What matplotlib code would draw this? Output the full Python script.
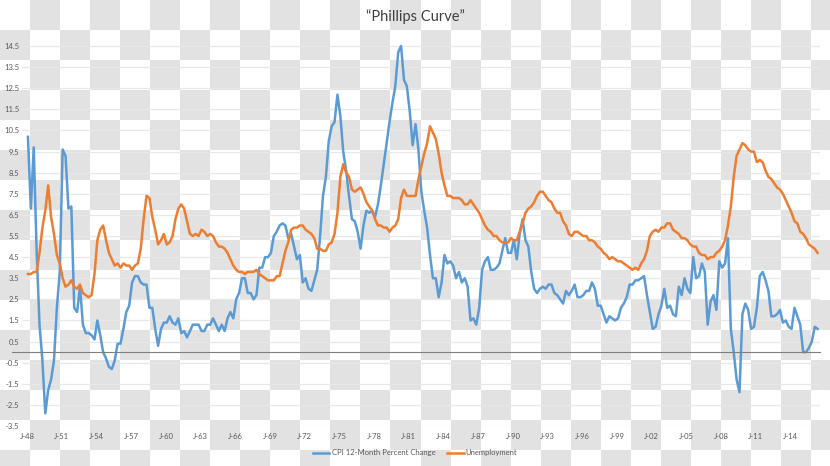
import numpy as np
import matplotlib
matplotlib.use('Agg')
import matplotlib.pyplot as plt
from matplotlib.colors import ListedColormap

plt.rcParams['font.family'] = ['Lato', 'DejaVu Sans']

# quarterly readings, starting Q1 1948
start_year = 1948
cpi_change = [
    10.2, 6.8, 9.7, 4.8,   1.3, -0.4, -2.9, -1.8,   -1.3, -0.4, 2.1, 3.8,   9.6, 9.3, 6.8, 6.9,
    2.1, 1.9, 3.1, 1.3,    0.9, 0.9, 0.8, 0.6,      1.5, 0.8, 0.0, -0.3,    -0.7, -0.8, -0.4, 0.4,
    0.4, 1.1, 1.9, 2.2,    3.3, 3.6, 3.6, 3.3,      3.2, 3.2, 2.1, 2.1,     1.1, 0.3, 1.1, 1.4,
    1.4, 1.7, 1.4, 1.3,    1.6, 0.9, 1.0, 0.7,      1.0, 1.3, 1.3, 1.3,     1.0, 1.0, 1.3, 1.3,
    1.6, 1.3, 1.0, 1.3,    1.0, 1.6, 1.9, 1.6,      2.5, 2.8, 3.5, 3.5,     2.8, 2.8, 2.5, 2.7,
    4.0, 4.0, 4.5, 4.5,    4.7, 5.5, 5.7, 6.0,      6.1, 6.0, 5.4, 5.6,     5.0, 4.4, 4.6, 3.3,
    3.5, 3.0, 2.9, 3.4,    3.9, 5.5, 7.4, 8.3,      10.0, 10.7, 10.9, 12.2, 11.2, 9.5, 8.6, 7.4,
    6.3, 6.2, 5.7, 4.9,    6.0, 6.7, 6.6, 6.7,      6.4, 7.0, 7.9, 8.9,     9.9, 10.9, 11.8, 12.6,
    14.2, 14.5, 12.9, 12.6, 11.4, 9.8, 10.8, 9.6,   7.6, 6.7, 5.9, 4.6,     3.5, 3.5, 2.6, 3.3,
    4.6, 4.2, 4.3, 4.1,    3.5, 3.8, 3.3, 3.5,      3.1, 1.5, 1.6, 1.3,     2.1, 3.9, 4.3, 4.5,
    3.9, 3.9, 4.0, 4.2,    4.8, 5.4, 4.7, 4.7,      5.3, 4.4, 5.6, 6.3,     5.3, 5.0, 3.8, 3.0,
    2.8, 3.0, 3.1, 3.0,    3.2, 3.2, 2.8, 2.7,      2.5, 2.3, 2.9, 2.7,     2.9, 3.2, 2.6, 2.6,
    2.7, 2.9, 2.9, 3.3,    3.0, 2.2, 2.2, 1.8,      1.4, 1.7, 1.6, 1.5,     1.6, 2.1, 2.3, 2.6,
    3.2, 3.2, 3.4, 3.4,    3.5, 3.6, 2.7, 1.9,      1.1, 1.2, 1.8, 2.2,     3.0, 2.1, 2.2, 1.8,
    1.7, 3.1, 2.7, 3.5,    3.0, 2.8, 4.5, 3.5,      3.6, 4.2, 3.8, 1.3,     2.4, 2.7, 2.0, 4.3,
    4.0, 4.2, 5.4, 1.1,    0.0, -1.3, -1.9, 1.8,    2.3, 2.0, 1.1, 1.2,     2.1, 3.6, 3.8, 3.4,
    2.9, 1.7, 1.7, 1.8,    2.0, 1.4, 1.5, 1.2,      1.1, 2.1, 1.7, 1.3,     0.0, 0.0, 0.2, 0.5,
    1.2, 1.1,
]
unemployment = [
    3.7, 3.7, 3.8, 3.8,    4.7, 5.9, 6.7, 7.9,      6.4, 5.6, 4.6, 4.2,     3.5, 3.1, 3.2, 3.4,
    3.1, 3.0, 3.2, 2.8,    2.7, 2.6, 2.7, 3.7,      5.3, 5.8, 6.0, 5.3,     4.7, 4.4, 4.1, 4.2,
    4.0, 4.2, 4.1, 4.1,    3.9, 4.1, 4.2, 4.9,      6.3, 7.4, 7.3, 6.4,     5.8, 5.1, 5.3, 5.6,
    5.1, 5.2, 5.5, 6.3,    6.8, 7.0, 6.8, 6.2,      5.6, 5.5, 5.6, 5.5,     5.8, 5.7, 5.5, 5.6,
    5.5, 5.2, 5.0, 5.0,    4.9, 4.7, 4.4, 4.1,      3.9, 3.8, 3.8, 3.7,     3.8, 3.8, 3.8, 3.9,
    3.7, 3.6, 3.5, 3.4,    3.4, 3.4, 3.6, 3.6,      4.2, 4.8, 5.2, 5.8,     5.9, 5.9, 6.0, 6.0,
    5.8, 5.7, 5.6, 5.4,    4.9, 4.9, 4.8, 4.8,      5.1, 5.2, 5.6, 6.6,     8.3, 8.9, 8.5, 8.3,
    7.7, 7.6, 7.7, 7.8,    7.5, 7.1, 6.9, 6.7,      6.3, 6.0, 6.0, 5.9,     5.9, 5.7, 5.9, 6.0,
    6.3, 7.3, 7.7, 7.4,    7.4, 7.4, 7.4, 8.2,      8.8, 9.4, 9.9, 10.7,    10.4, 10.1, 9.4, 8.5,
    7.9, 7.4, 7.4, 7.3,    7.3, 7.3, 7.2, 7.0,      7.0, 7.2, 7.0, 6.8,     6.6, 6.3, 6.0, 5.8,
    5.7, 5.5, 5.5, 5.3,    5.2, 5.2, 5.2, 5.4,      5.3, 5.3, 5.7, 6.1,     6.6, 6.8, 6.9, 7.1,
    7.4, 7.6, 7.6, 7.4,    7.2, 7.1, 6.8, 6.6,      6.6, 6.2, 6.0, 5.6,     5.5, 5.7, 5.7, 5.6,
    5.5, 5.5, 5.3, 5.3,    5.2, 5.0, 4.9, 4.7,      4.6, 4.4, 4.5, 4.4,     4.3, 4.3, 4.2, 4.1,
    4.0, 3.9, 4.0, 3.9,    4.2, 4.4, 4.8, 5.5,      5.7, 5.8, 5.7, 5.9,     5.9, 6.1, 6.1, 5.8,
    5.7, 5.6, 5.4, 5.4,    5.3, 5.1, 5.0, 5.0,      4.7, 4.6, 4.6, 4.4,     4.5, 4.5, 4.7, 4.8,
    5.0, 5.3, 6.0, 6.9,    8.3, 9.3, 9.6, 9.9,      9.8, 9.6, 9.5, 9.5,     9.0, 9.1, 9.0, 8.6,
    8.3, 8.2, 8.0, 7.8,    7.7, 7.5, 7.2, 6.9,      6.6, 6.2, 6.1, 5.7,     5.6, 5.4, 5.1, 5.0,
    4.9, 4.7,
]
tick_years = list(range(1948, 2015, 3))
tick_labels = ['J-%02d' % (y % 100) for y in tick_years]
y_ticks = np.arange(-3.5, 15, 1.0)

t = start_year + np.arange(len(cpi_change)) / 4 + 1 / 12

fig = plt.figure(figsize=(8.3, 4.66), dpi=100)

# checkered backdrop
bg = fig.add_axes([0, 0, 1, 1], zorder=0)
yy, xx = np.mgrid[0:466, 0:830]
checker = (yy // 30 + xx // 30) % 2
bg.imshow(checker, cmap=ListedColormap(['white', '#e2e2e2']),
          interpolation='nearest', aspect='auto')
bg.axis('off')

ax = fig.add_axes([22 / 830, 1 - 426 / 466, 798 / 830, (426 - 35.5) / 466], zorder=1)
ax.patch.set_alpha(0)

ax.plot(t, cpi_change, color='#5b9bd5', lw=1.8, label='CPI 12-Month Percent Change')
ax.plot(t, unemployment, color='#ed7d31', lw=1.8, label='Unemployment')
ax.axhline(0, xmin=-10 / 798, xmax=1, color='#7f7f7f', lw=0.8, clip_on=False)

ax.set_xlim(1947.57, 2016.54)
ax.set_ylim(-3.5, 15)
ax.set_yticks(y_ticks)
ax.set_yticklabels(['%.1f' % v for v in y_ticks])
ax.set_xticks(tick_years)
ax.set_xticklabels(tick_labels)
ax.grid(axis='y', color='#e8e8e8', lw=0.9)
ax.set_axisbelow(True)
for s in ax.spines.values():
    s.set_visible(False)
ax.tick_params(axis='both', length=0, labelsize=5.5, colors='#595959')
ax.tick_params(axis='y', pad=2)
ax.tick_params(axis='x', pad=5)

fig.text(0.5, 1 - 17 / 466, '\u201cPhillips Curve\u201d', ha='center', va='center',
         fontsize=10.5, color='#404040')
fig.legend(loc='center', bbox_to_anchor=(0.5, 1 - 453 / 466), ncol=2, frameon=False,
           fontsize=5.5, labelcolor='#595959', handlelength=2.2, columnspacing=1.5,
           handletextpad=0.3)

fig.savefig('out.png', dpi=100)
